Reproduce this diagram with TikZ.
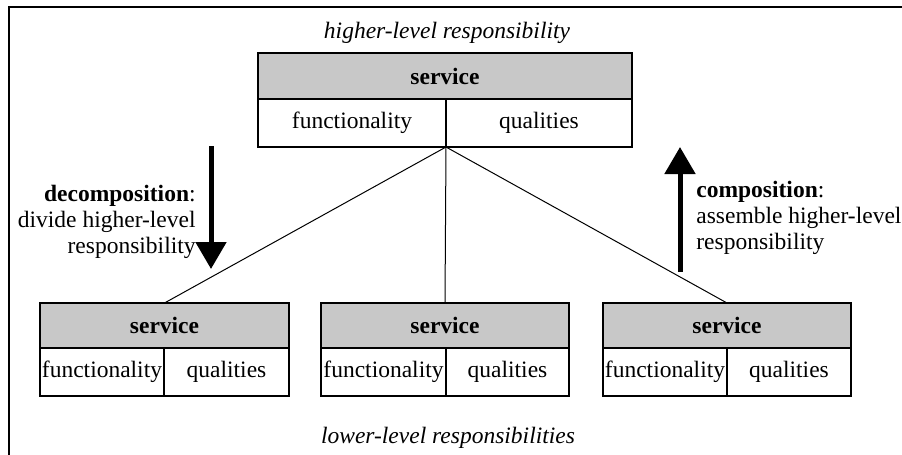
\documentclass[tikz,border=0pt]{standalone}
\usepackage{fontspec}
\setmainfont{Liberation Serif}
\usetikzlibrary{arrows.meta}
\definecolor{svcgray}{RGB}{200,200,200}
\begin{document}
\begin{tikzpicture}[x=0.5pt,y=-0.5pt,
  font=\fontsize{11.75}{13}\selectfont,
  svc/.style={draw, line width=0.65pt, fill=svcgray, font=\fontsize{11.75}{13}\selectfont\bfseries,
    minimum height=23pt, inner sep=0pt, outer sep=0pt, anchor=north west},
  cell/.style={draw, line width=0.65pt, fill=white, minimum height=24pt,
    inner sep=0pt, outer sep=0pt, anchor=north west},
  link/.style={line width=0.5pt},
  bigarrow/.style={line width=2.5pt, -{Triangle[width=15pt,length=13.5pt]}},
  note/.style={inner sep=0pt}
]
\useasboundingbox (0,0) rectangle (902,455);
% frame
\draw[line width=0.6pt] (9,455) -- (9,7) -- (902,7);

% top service
\node[svc, minimum width=187pt] (t) at (258,53) {service};
\node[cell, minimum width=94pt] (tf) at (258,99) {functionality};
\node[cell, minimum width=93pt] (tq) at (446,99) {qualities};

% bottom left
\node[svc, minimum width=124.5pt, minimum height=22.5pt] (l) at (40,303) {service};
\node[cell, minimum width=62pt] (lf) at (40,348) {functionality};
\node[cell, minimum width=62.5pt] (lq) at (164,348) {qualities};

% bottom middle
\node[svc, minimum width=124pt, minimum height=22.5pt] (m) at (321,303) {service};
\node[cell, minimum width=62.5pt] (mf) at (321,348) {functionality};
\node[cell, minimum width=61.5pt] (mq) at (446,348) {qualities};

% bottom right
\node[svc, minimum width=124pt, minimum height=22.5pt] (r) at (603,303) {service};
\node[cell, minimum width=62pt] (rf) at (603,348) {functionality};
\node[cell, minimum width=62pt] (rq) at (727,348) {qualities};

% connectors
\draw[link] (tf.south east) -- (l.north);
\draw[link] (tf.south east) -- (m.north);
\draw[link] (tf.south east) -- (r.north);

% labels
\node[note, font=\fontsize{11.75}{13}\selectfont\itshape] (hi) at (447,33) {higher-level responsibility};
\node[note, font=\fontsize{11.75}{13}\selectfont\itshape] (lo) at (448,438) {lower-level responsibilities};

% arrows
\coordinate (d1) at (211,146);
\coordinate (d2) at (211,269);
\draw[bigarrow] (d1) -- (d2);
\coordinate (u1) at (680,272);
\coordinate (u2) at (680,147);
\draw[bigarrow] (u1) -- (u2);

\node[note, align=right, anchor=east] (dec) at (196,222)
  {\textbf{decomposition}:\\divide higher-level\\responsibility};
\node[note, align=left, anchor=west] (com) at (696,218)
  {\textbf{composition}:\\assemble higher-level\\responsibility};
\end{tikzpicture}
\end{document}
